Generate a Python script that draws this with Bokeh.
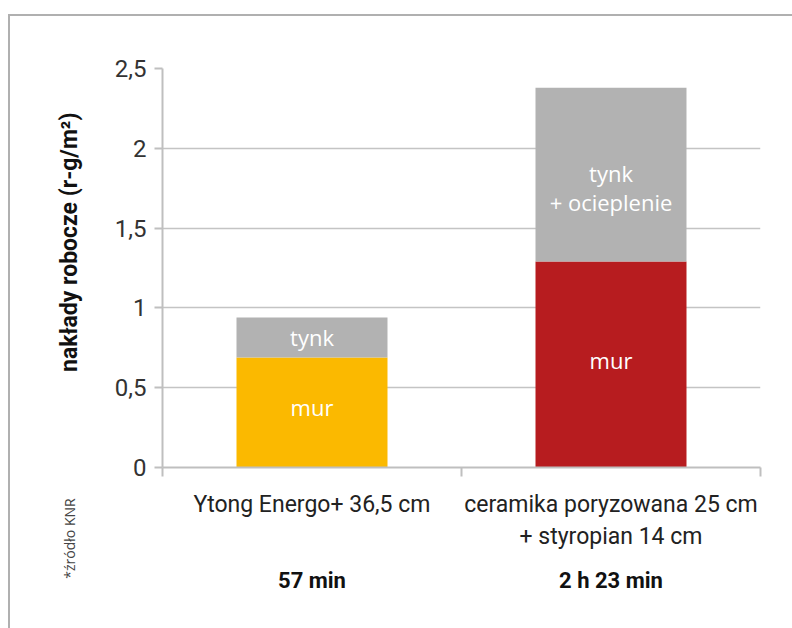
from bokeh.plotting import figure
from bokeh.models import (Range1d, LinearAxis, FixedTicker, Label, ColumnDataSource, InlineStyleSheet)
from bokeh.embed import file_html
from bokeh.resources import INLINE
from bokeh.core.properties import value

# ---- data ----
categories = ["Ytong Energo+ 36,5 cm", "ceramika poryzowana 25 cm\n+ styropian 14 cm"]
mur = [0.69, 1.29]
tynk = [0.25, 1.09]
mur_labels = ["mur", "mur"]
tynk_labels = ["tynk", "tynk\n+ ocieplenie"]
times = ["57 min", "2 h 23 min"]
y_ticks = [0, 0.5, 1, 1.5, 2, 2.5]
y_tick_labels = ["0", "0,5", "1", "1,5", "2", "2,5"]
y_title = "nakłady robocze (r-g/m²)"
source_note = "*źródło KNR"

YELLOW = "#FBB900"
RED = "#B71C1F"
GRAY = "#B2B2B2"
AXIS = "#BFBFBF"

W, H = 784, 620
n = len(categories)
xpos = [i + 0.5 for i in range(n)]          # category centres on a 0..n axis
bounds = list(range(n + 1))                  # category boundaries

frame_css = InlineStyleSheet(css="""
:host { position: relative; }
:host::after {
  content: ""; position: absolute; left: 8px; top: 14px; right: -8px; bottom: -8px;
  border-left: 2.5px solid #B0B0B0; border-top: 2.5px solid #B0B0B0;
  pointer-events: none;
}
""")

p = figure(width=W, height=H, x_range=Range1d(0, n),
           y_range=Range1d(0, 2.5), output_backend="svg", toolbar_location=None,
           x_axis_location=None, y_axis_location=None,
           min_border_left=162, min_border_right=24, min_border_top=68, min_border_bottom=153,
           stylesheets=[frame_css])
p.outline_line_color = None
p.background_fill_color = "white"
p.border_fill_color = "white"

# stacked bars
mur_colors = [YELLOW, RED]
tops = [m + t for m, t in zip(mur, tynk)]
src = ColumnDataSource(dict(x=xpos, mur=mur, top=tops, zero=[0] * n,
                            mur_color=mur_colors,
                            mur_mid=[m / 2 for m in mur],
                            tynk_mid=[(m + t) / 2 for m, t in zip(mur, tops)],
                            tynk_off=[0, 13],
                            mur_lab=mur_labels, tynk_lab=tynk_labels))
p.vbar(x="x", bottom="zero", top="mur", width=0.505, fill_color="mur_color", line_color=None, source=src)
p.vbar(x="x", bottom="mur", top="top", width=0.505, fill_color=GRAY, line_color=None, source=src)

p.text(x="x", y="mur_mid", text="mur_lab", source=src, text_color="white",
       text_font=value("Open Sans"), text_font_size="22px", text_align="center",
       text_baseline="middle", y_offset=-5)
p.text(x="x", y="tynk_mid", text="tynk_lab", source=src, text_color="white",
       text_font=value("Open Sans"), text_font_size="22px", text_align="center",
       text_baseline="middle", text_line_height=0.95, y_offset="tynk_off")

# grid
p.xgrid.visible = False
p.ygrid.ticker = FixedTicker(ticks=y_ticks)
p.ygrid.grid_line_color = "#C4C4C4"
p.ygrid.grid_line_width = 1.5

# y axis
yax = LinearAxis(ticker=FixedTicker(ticks=y_ticks),
                 major_label_overrides={t: l for t, l in zip(y_ticks, y_tick_labels)})
yax.axis_line_color = AXIS
yax.axis_line_width = 2
yax.major_tick_line_color = AXIS
yax.major_tick_line_width = 2
yax.major_tick_out = 8
yax.major_tick_in = 0
yax.minor_tick_line_color = None
yax.major_label_text_font = "Roboto"
yax.major_label_text_font_size = "24px"
yax.major_label_text_color = "#333333"
yax.major_label_standoff = 8
yax.axis_label = "\u00a0" * 9 + y_title
yax.axis_label_text_font = "Roboto"
yax.axis_label_text_font_style = "bold"
yax.axis_label_text_font_size = "23px"
yax.axis_label_text_color = "#111111"
yax.axis_label_standoff = 29
p.add_layout(yax, "left")

# x axis: boundary ticks
xnum = LinearAxis(ticker=FixedTicker(ticks=bounds),
                  major_label_overrides={b: "" for b in bounds})
xnum.axis_line_color = AXIS
xnum.axis_line_width = 2
xnum.major_tick_line_color = AXIS
xnum.major_tick_line_width = 2
xnum.major_tick_out = 9
xnum.major_tick_in = 0
xnum.minor_tick_line_color = None
xnum.major_label_text_font_size = "1px"
xnum.major_label_standoff = 0
p.add_layout(xnum, "below")

# x axis: category labels
xcat = LinearAxis(ticker=FixedTicker(ticks=xpos),
                  major_label_overrides={x: c for x, c in zip(xpos, categories)})
xcat.axis_line_color = None
xcat.major_tick_line_color = None
xcat.major_tick_out = 0
xcat.major_tick_in = 0
xcat.minor_tick_line_color = None
xcat.major_label_text_font = "Roboto"
xcat.major_label_text_font_size = "23px"
xcat.major_label_text_color = "#222222"
xcat.major_label_standoff = 14
xcat.major_label_text_line_height = 1.2
p.add_layout(xcat, "below")

# x axis: bold time labels
xtime = LinearAxis(ticker=FixedTicker(ticks=xpos),
                   major_label_overrides={x: t for x, t in zip(xpos, times)})
xtime.axis_line_color = None
xtime.major_tick_line_color = None
xtime.major_tick_out = 0
xtime.major_tick_in = 0
xtime.minor_tick_line_color = None
xtime.major_label_text_font = "Roboto"
xtime.major_label_text_font_style = "bold"
xtime.major_label_text_font_size = "22px"
xtime.major_label_text_color = "#111111"
xtime.major_label_standoff = 15
p.add_layout(xtime, "below")

# source note, placed in the left side panel so it is not clipped to the frame
p.add_layout(Label(x=36, y=-71, x_units="screen", y_units="screen", text=source_note,
                   angle=1.5708, text_align="center", text_baseline="middle",
                   text_font="Open Sans", text_font_size="14px", text_color="#444444"), "left")

open("out.html", "w").write(file_html(p, INLINE))
